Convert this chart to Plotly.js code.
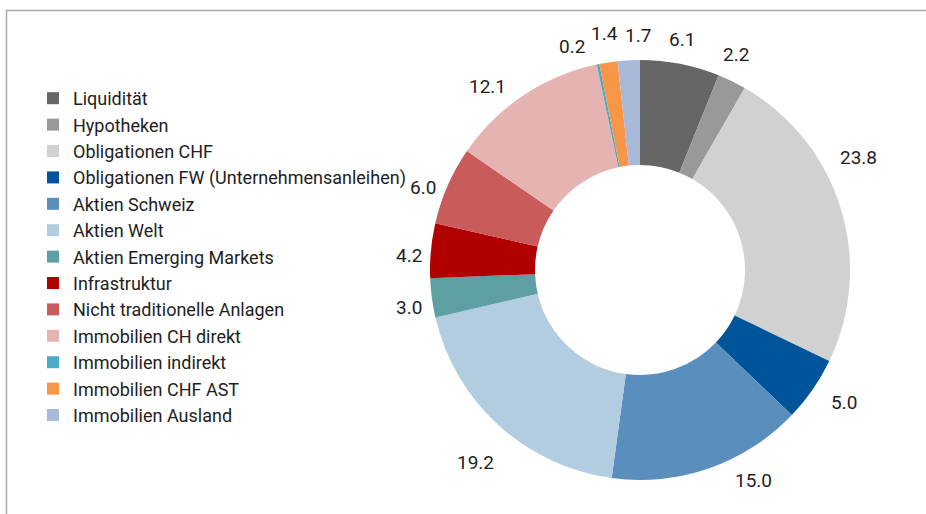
<!DOCTYPE html>
<html>
<head>
<meta charset="utf-8">
<script src="https://cdn.plot.ly/plotly-3.0.1.min.js"></script>
<style>html,body{margin:0;padding:0;background:#fff;}#chart{width:926px;height:514px;}</style>
</head>
<body>
<div id="chart"></div>
<script>
const categories = [
  "Liquidität",
  "Hypotheken",
  "Obligationen CHF",
  "Obligationen FW (Unternehmensanleihen)",
  "Aktien Schweiz",
  "Aktien Welt",
  "Aktien Emerging Markets",
  "Infrastruktur",
  "Nicht traditionelle Anlagen",
  "Immobilien CH direkt",
  "Immobilien indirekt",
  "Immobilien CHF AST",
  "Immobilien Ausland"
];
const values = [6.1, 2.2, 23.8, 5.0, 15.0, 19.2, 3.0, 4.2, 6.0, 12.1, 0.2, 1.4, 1.7];
const colors = ["#666666", "#999999", "#d1d1d1", "#00559a", "#5a8fbd", "#b2cde0", "#5e9fa3",
                "#b00000", "#c95b5b", "#e6b3b3", "#4bacc6", "#f79646", "#a9b9d8"];

// layout-only pixel nudges for the value labels (to spread crowded labels)
const labelNudgeX = [-3, -8, -9, 8, 36, -4, 4, 5, 1, -21, -21, 0, 10];
const labelNudgeY = [0, -3, -42, -3, -12, 16, 6, 7, 13, 14, 6, -5, -2];

const W = 926, H = 514;
const cx = 640, cy = 270, r = 210;
const fontFam = 'Roboto, "Liberation Sans", sans-serif';
const textColor = '#1e1e1e';

const trace = {
  type: 'pie',
  labels: categories,
  values: values,
  sort: false,
  direction: 'clockwise',
  rotation: 0,
  hole: 0.5,
  marker: {colors: colors, line: {width: 0}},
  textinfo: 'none',
  hoverinfo: 'label+value',
  automargin: false,
  domain: {
    x: [(cx - r) / W, (cx + r) / W],
    y: [(H - cy - r) / H, (H - cy + r) / H]
  }
};

// value labels placed outside each slice at its mid-angle (derived from the data)
const total = values.reduce((a, b) => a + b, 0);
const annotations = [];
let cum = 0;
values.forEach((v, i) => {
  const mid = (cum + v / 2) / total * 2 * Math.PI;
  cum += v;
  const s = Math.sin(mid), c = Math.cos(mid);
  const R = r + 13 + 13 * Math.abs(s) + 9 * Math.abs(c);
  const px = cx + R * s + labelNudgeX[i], py = cy - R * c + labelNudgeY[i];
  annotations.push({
    xref: 'paper', yref: 'paper',
    x: px / W, y: (H - py) / H,
    xanchor: 'center', yanchor: 'middle',
    text: v.toFixed(1), showarrow: false,
    font: {family: fontFam, size: 19, color: textColor}
  });
});

const layout = {
  width: W, height: H,
  margin: {l: 0, r: 0, t: 0, b: 0},
  paper_bgcolor: '#ffffff',
  showlegend: true,
  legend: {
    x: 33 / W, xanchor: 'left',
    y: (H - 80) / H, yanchor: 'top',
    font: {family: fontFam, size: 18, color: textColor},
    bgcolor: 'rgba(0,0,0,0)',
    tracegroupgap: 0
  },
  font: {family: fontFam},
  annotations: annotations,
  shapes: [{
    type: 'rect', xref: 'paper', yref: 'paper',
    x0: 6.5 / W, x1: 1.05, y0: -0.05, y1: (H - 10.5) / H,
    line: {color: '#aaaaaa', width: 1.5}
  }]
};

Plotly.newPlot('chart', [trace], layout, {displayModeBar: false, staticPlot: true});
</script>
</body>
</html>
